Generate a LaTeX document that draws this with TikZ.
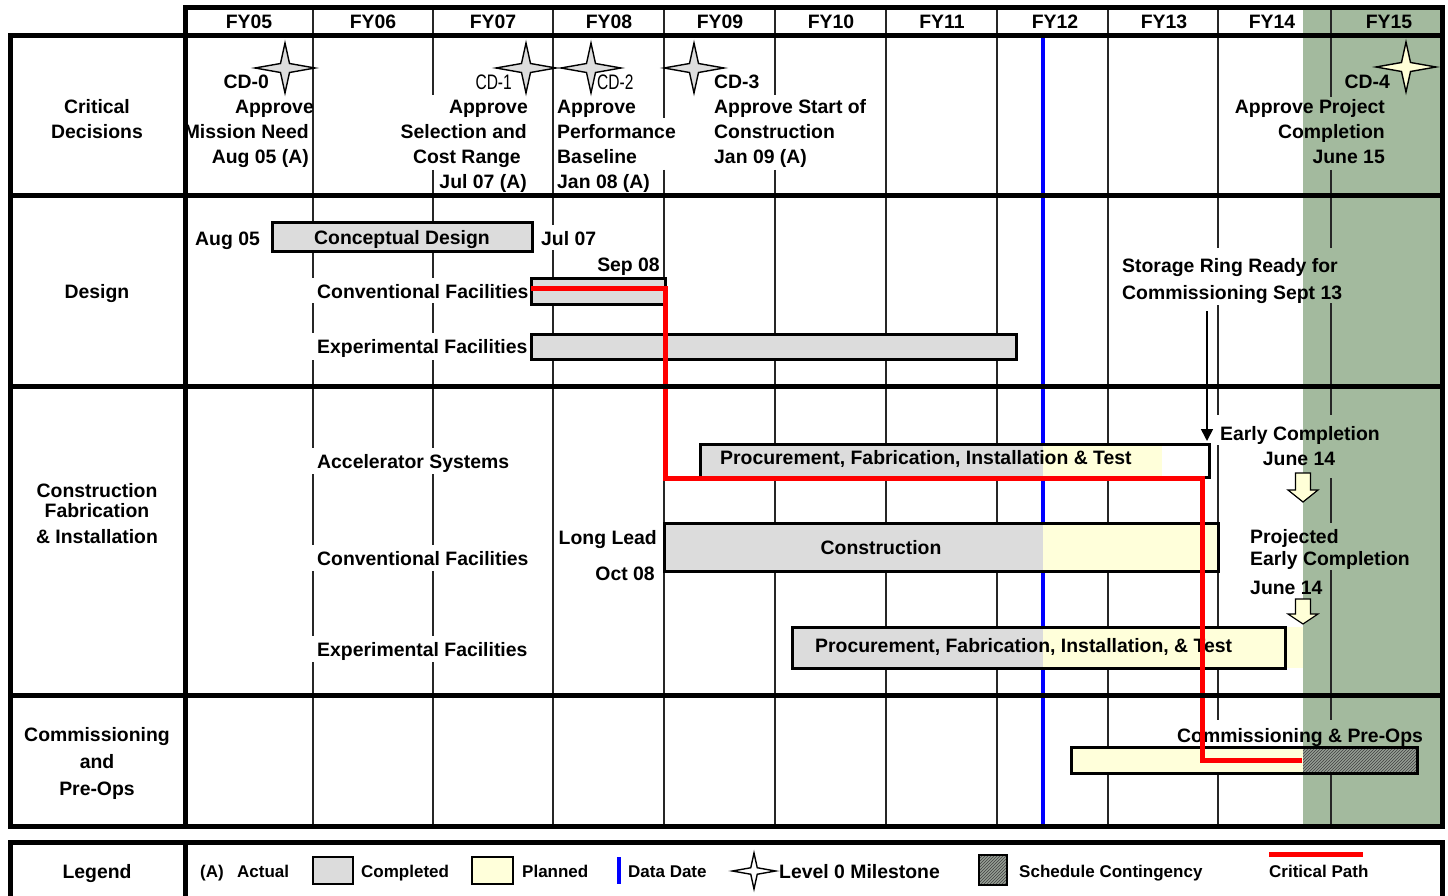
\documentclass[tikz,border=0pt]{standalone}
\usepackage{fontspec}
\setmainfont{Liberation Sans}
\usetikzlibrary{arrows.meta,patterns}
\definecolor{bargray}{RGB}{220,220,220}
\definecolor{planyel}{RGB}{255,255,218}
\definecolor{contgreen}{RGB}{163,186,158}
\definecolor{hatchbase}{RGB}{150,158,148}
\definecolor{stargray}{RGB}{221,221,221}
\definecolor{staryel}{RGB}{255,255,215}
\newcommand\mainf{\fontsize{19.4}{23}\selectfont\bfseries}
\newcommand\legf{\fontsize{17}{20}\selectfont\bfseries}
\newcommand\cdf{\fontsize{21}{24}\selectfont\mdseries}
\newcommand\drawstar[4]{\begin{scope}[shift={(#1,#2)},scale=#4]
 \filldraw[fill=#3,line width=1.4pt] (0,-25) -- (4.5,-4.5) -- (30,0) -- (4.5,4.5) -- (0,25) -- (-4.5,4.5) -- (-30,0) -- (-4.5,-4.5) -- cycle;
\end{scope}}
\tikzset{
 txt/.style={inner sep=0pt, font=\mainf},
 ltxt/.style={inner sep=0pt, font=\legf},
 framel/.style={line width=5pt, line cap=rect},
 gridln/.style={line width=1.3pt, black!85},
 barbox/.style={draw, line width=3pt},
 crit/.style={red, line width=5pt},
 datadate/.style={blue, line width=3.5pt},
 blockarrow/.style={draw, line width=1.2pt, fill=staryel},
}
\begin{document}
\begin{tikzpicture}[x=1pt,y=-1pt]
\useasboundingbox (0,0) rectangle (1448,896);
\clip (0,0) rectangle (1448,896);
\fill[white] (0,0) rectangle (1448,896);
% contingency band
\fill[contgreen] (1303,8) rectangle (1442,826);
% header grid
\foreach \gx in {313,433,553,664,775,886,997,1108,1218,1331}
  \draw[gridln] (\gx,8) -- (\gx,36);
% body grid with gaps behind labels
\draw[gridln] (313,36)--(313,278) (313,303)--(313,333) (313,360)--(313,448) (313,474)--(313,545) (313,571)--(313,636) (313,662)--(313,826);
\draw[gridln] (433,36)--(433,95) (433,170)--(433,278) (433,303)--(433,333) (433,360)--(433,448) (433,474)--(433,545) (433,571)--(433,636) (433,662)--(433,826);
\draw[gridln] (553,36)--(553,225) (553,250)--(553,826);
\draw[gridln] (664,36)--(664,118) (664,170)--(664,826);
\draw[gridln] (775,36)--(775,95) (775,170)--(775,826);
\foreach \gx in {886,997,1108} \draw[gridln] (\gx,36) -- (\gx,826);
\draw[gridln] (1218,36)--(1218,248) (1218,305)--(1218,415) (1218,445)--(1218,720) (1218,773)--(1218,826);
\draw[gridln] (1331,36)--(1331,97) (1331,170)--(1331,248) (1331,303)--(1331,415) (1331,478)--(1331,523) (1331,570)--(1331,720) (1331,773)--(1331,826);
% data date
\coordinate (ddTop) at (1043,36);
\coordinate (ddBot) at (1043,826);
\draw[datadate] (ddTop) -- (ddBot);

% ---- bars ----
\filldraw[barbox, fill=bargray] (272,223) rectangle (532,251);
\filldraw[barbox, fill=bargray] (531,278) rectangle (665,304);
\filldraw[barbox, fill=bargray] (531,334) rectangle (1016,359);
% accelerator
\fill[bargray] (700,444) rectangle (1043,477);
\fill[planyel] (1043,444) rectangle (1162,477);
\fill[white] (1162,444) rectangle (1209,477);
\draw[line width=3pt] (700,444) rectangle (1209,477);
% conventional construction
\fill[bargray] (664,523) rectangle (1043,571);
\fill[planyel] (1043,523) rectangle (1218,571);
\draw[line width=3pt] (664,523) rectangle (1218,571);
% experimental construction
\fill[bargray] (792,627) rectangle (1043,668);
\fill[planyel] (1043,627) rectangle (1303,668);
\draw[line width=3pt] (792,627) rectangle (1285,668);
% commissioning
\fill[planyel] (1071,747) rectangle (1303,773);
\fill[hatchbase] (1303,747) rectangle (1417,773);
\fill[pattern=north east lines, pattern color=black!75] (1303,747) rectangle (1417,773);
\draw[line width=3pt] (1071,747) rectangle (1417,773);

% ---- header text ----
\foreach \fx/\fy [count=\i] in {249/FY05,373/FY06,493/FY07,609/FY08,720/FY09,831/FY10,942/FY11,1055/FY12,1164/FY13,1272/FY14,1389/FY15}
  \node[txt, anchor=base] (hd\i) at (\fx,29) {\fy};

% ---- row labels ----
\node[txt, anchor=base] (rl1) at (97,114) {Critical};
\node[txt, anchor=base] (rl2) at (97,139) {Decisions};
\node[txt, anchor=base] (rl3) at (97,298) {Design};
\node[txt, anchor=base] (rl4) at (97,497) {Construction};
\node[txt, anchor=base] (rl5) at (97,517) {Fabrication};
\node[txt, anchor=base] (rl6) at (97,543) {\& Installation};
\node[txt, anchor=base] (rl7) at (97,741) {Commissioning};
\node[txt, anchor=base] (rl8) at (97,768) {and};
\node[txt, anchor=base] (rl9) at (97,795) {Pre-Ops};

% ---- critical decisions ----
\node[txt, anchor=base east] (cd0a) at (269,89) {CD-0};
\node[txt, anchor=base east] (cd0b) at (314,114) {Approve};
\node[txt, anchor=base east] (cd0c) at (309,139) {Mission Need};
\node[txt, anchor=base east] (cd0d) at (309,164) {Aug 05 (A)};

\node[inner sep=0pt, anchor=base east] (cd1a) at (512,89.5) {\scalebox{0.74}[1]{\cdf CD-1}};
\node[txt, anchor=base east] (cd1b) at (528,114) {Approve};
\node[txt, anchor=base east] (cd1c) at (527,139) {Selection and};
\node[txt, anchor=base east] (cd1d) at (521,164) {Cost Range};
\node[txt, anchor=base east] (cd1e) at (527,189) {Jul 07 (A)};

\node[inner sep=0pt, anchor=base west] (cd2a) at (597,89.5) {\scalebox{0.74}[1]{\cdf CD-2}};
\node[txt, anchor=base west] (cd2b) at (557,114) {Approve};
\node[txt, anchor=base west] (cd2c) at (557,139) {Performance};
\node[txt, anchor=base west] (cd2d) at (557,164) {Baseline};
\node[txt, anchor=base west] (cd2e) at (557,189) {Jan 08 (A)};

\node[txt, anchor=base west] (cd3a) at (714,89) {CD-3};
\node[txt, anchor=base west] (cd3b) at (714,114) {Approve Start of};
\node[txt, anchor=base west] (cd3c) at (714,139) {Construction};
\node[txt, anchor=base west] (cd3d) at (714,164) {Jan 09 (A)};

\node[txt, anchor=base east] (cd4a) at (1390,89) {CD-4};
\node[txt, anchor=base east] (cd4b) at (1385,114) {Approve Project};
\node[txt, anchor=base east] (cd4c) at (1385,139) {Completion};
\node[txt, anchor=base east] (cd4d) at (1385,164) {June 15};

% ---- design row ----
\node[txt, anchor=base west] (dAug) at (195,245) {Aug 05};
\node[txt, anchor=base] (dCon) at (402,244) {Conceptual Design};
\node[txt, anchor=base west] (dJul) at (541,245) {Jul 07};
\node[txt, anchor=base east] (dSep) at (660,271) {Sep 08};
\node[txt, anchor=base west] (dCF) at (317,298) {Conventional Facilities};
\node[txt, anchor=base west] (dEF) at (317,353) {Experimental Facilities};
\node[txt, anchor=base west] (sr1) at (1122,272) {Storage Ring Ready for};
\node[txt, anchor=base west] (sr2) at (1122,299) {Commissioning Sept 13};

% ---- construction row ----
\node[txt, anchor=base west] (cAS) at (317,468) {Accelerator Systems};
\node[txt, anchor=base west] (cASbar) at (720,464) {Procurement, Fabrication, Installation \& Test};
\node[txt, anchor=base west] (ec1) at (1220,440) {Early Completion};
\node[txt, anchor=base] (ec2) at (1299,465) {June 14};
\node[txt, anchor=base east] (ll1) at (657,544) {Long Lead};
\node[txt, anchor=base east] (ll2) at (655,580) {Oct 08};
\node[txt, anchor=base west] (cCF) at (317,565) {Conventional Facilities};
\node[txt, anchor=base] (cCFbar) at (881,554) {Construction};
\node[txt, anchor=base west] (pe1) at (1250,543) {Projected};
\node[txt, anchor=base west] (pe2) at (1250,565) {Early Completion};
\node[txt, anchor=base west] (pe3) at (1250,594) {June 14};
\node[txt, anchor=base west] (cEF) at (317,656) {Experimental Facilities};
\node[txt, anchor=base west] (cEFbar) at (815,652) {Procurement, Fabrication, Installation, \& Test};

% ---- commissioning ----
\node[txt, anchor=base west] (cmTxt) at (1177,742) {Commissioning \& Pre-Ops};

% ---- milestones ----
\drawstar{285}{68}{stargray}{1}
\drawstar{526}{68}{stargray}{1}
\drawstar{591}{68}{stargray}{1}
\drawstar{694}{68}{stargray}{1}
\drawstar{1406}{67}{staryel}{1}

% ---- arrows ----
\coordinate (srArrow) at (1207,311);
\coordinate (accTop) at (1207,441);
\draw[line width=1.6pt, -{Triangle[length=12pt,width=12pt]}] (srArrow) -- (accTop);
\filldraw[blockarrow] (1295.5,473) -- (1310.5,473) -- (1310.5,490) -- (1318,490) -- (1303,502) -- (1288,490) -- (1295.5,490) -- cycle;
\filldraw[blockarrow] (1295.5,599) -- (1310.5,599) -- (1310.5,614) -- (1318,614) -- (1303,624) -- (1288,614) -- (1295.5,614) -- cycle;

% ---- critical path ----
\coordinate (cp0) at (531,288);
\coordinate (cp1) at (665,288);
\coordinate (cp2) at (665,478);
\coordinate (cp3) at (1202,478);
\coordinate (cp4) at (1202,760);
\coordinate (cp5) at (1302,760);
\draw[crit] (cp0) -- (cp1) -- (cp2) -- (cp3) -- (cp4) -- (cp5);

% ---- frames ----
\draw[framel] (185,8) rectangle (1442,36);
\draw[framel] (10,36) rectangle (1442,826);
\draw[framel] (185,36) -- (185,826);
\draw[framel] (10,196) -- (1442,196);
\draw[framel] (10,386) -- (1442,386);
\draw[framel] (10,695) -- (1442,695);

% ---- legend ----
\draw[framel] (10,842) rectangle (1442,920);
\draw[framel] (185,842) -- (185,920);
\node[txt, anchor=base] (lgL) at (97,878) {Legend};
\node[ltxt, anchor=base west] (lgA) at (200,877) {(A)};
\node[ltxt, anchor=base west] (lgAct) at (237,877) {Actual};
\filldraw[fill=bargray, line width=2.5pt] (313,857) rectangle (353,884);
\node[ltxt, anchor=base west] (lgComp) at (361,877) {Completed};
\filldraw[fill=planyel, line width=2.5pt] (472,857) rectangle (513,884);
\node[ltxt, anchor=base west] (lgPlan) at (522,877) {Planned};
\coordinate (lgDDt) at (619,857);
\coordinate (lgDDb) at (619,884);
\draw[datadate] (lgDDt) -- (lgDDb);
\node[ltxt, anchor=base west] (lgDD) at (628,877) {Data Date};
\drawstar{754}{871}{white}{0.72}
\node[txt, anchor=base west] (lgMile) at (779,878) {Level 0 Milestone};
\fill[hatchbase] (979,855) rectangle (1007,885);
\fill[pattern=north east lines, pattern color=black!75] (979,855) rectangle (1007,885);
\draw[line width=2pt] (979,855) rectangle (1007,885);
\node[ltxt, anchor=base west] (lgSC) at (1019,877) {Schedule Contingency};
\coordinate (lgCPa) at (1269,854);
\coordinate (lgCPb) at (1363,854);
\draw[crit] (lgCPa) -- (lgCPb);
\node[ltxt, anchor=base west] (lgCP) at (1269,877) {Critical Path};
\end{tikzpicture}
\end{document}
